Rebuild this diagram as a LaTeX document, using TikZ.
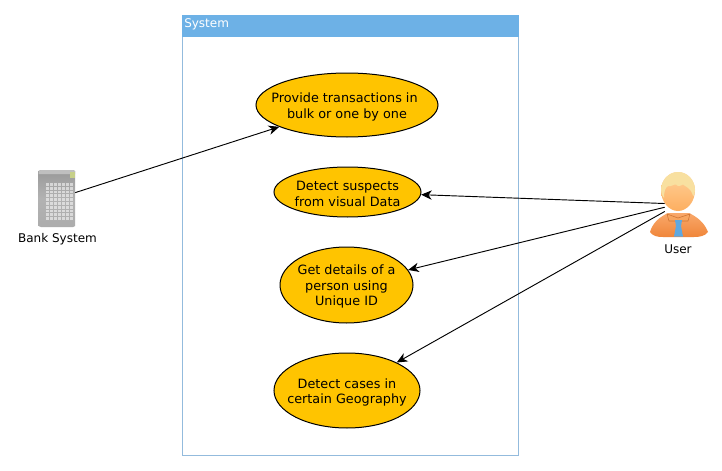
\documentclass[tikz,border=0pt]{standalone}
\usepackage{fontspec}
\setmainfont{DejaVu Sans}
\usepackage{xcolor}
\usetikzlibrary{shapes.geometric, arrows.meta}

\definecolor{headerblue}{HTML}{6DB1E6}
\definecolor{frameblue}{HTML}{93BBDD}
\definecolor{casefill}{HTML}{FFC400}
\definecolor{skin}{HTML}{FFD29A}
\definecolor{skindark}{HTML}{FDAE60}
\definecolor{hair}{HTML}{F8E0A0}
\definecolor{shirt}{HTML}{F0863A}
\definecolor{shirtlight}{HTML}{F9A86A}
\definecolor{collar}{HTML}{F7A560}
\definecolor{tie}{HTML}{5FA8E0}

\newcommand{\topgap}{\rule{0pt}{9.9pt}}

\tikzset{
	usecase/.style={ellipse, draw=black, line width=0.75pt, fill=casefill, inner sep=-14pt, align=center, font=\fontsize{9.6}{11.6}\selectfont},
	actorlabel/.style={font=\fontsize{9}{11}\selectfont, inner sep=0pt},
	link/.style={-{Stealth[length=8pt, width=7pt, inset=2.5pt]}, line width=0.7pt},
	icon/.style={inner sep=0pt, minimum width=#1*0.75pt}
}

\begin{document}
\begin{tikzpicture}[x=0.75pt, y=-0.75pt]
	\useasboundingbox (0, 0) rectangle (722, 471);
	\fill[white] (0, 0) rectangle (722, 471);

	% System frame
	\draw[frameblue, line width=0.75pt] (182.5, 15.5) rectangle (518.5, 455.5);
	\fill[headerblue] (182, 15) rectangle (519, 37);
	\node[actorlabel, white, anchor=west] (systemlabel) at (184, 24) {System};

	% Use cases
	\node[usecase, minimum width=136.5pt, minimum height=48pt] (transactions) at (347, 105) {\topgap Provide transactions in\hspace*{3.7pt}\\bulk or one by one};
	\node[usecase, minimum width=110.25pt, minimum height=37.5pt] (suspects) at (347.5, 192) {\topgap Detect suspects\\from visual Data};
	\node[usecase, minimum width=99.75pt, minimum height=57pt] (details) at (346.5, 285) {\topgap Get details of a\\person using\\Unique ID};
	\node[usecase, minimum width=109.5pt, minimum height=56.25pt] (cases) at (347, 390.5) {\topgap Detect cases in\\certain Geography};

	% Bank System
	\node[icon=36, minimum height=42.75pt] (bank) at (57, 198.5) {};
	\shade[top color=gray!80, bottom color=gray!65, middle color=gray!60] (38.5, 171) -- (38.5, 226) -- (41, 227) -- (73, 227) -- (75, 226) -- (75, 171) -- (73, 170) -- (41, 170) -- cycle;
	\fill[gray!50] (38.5, 171) -- (41, 170) -- (73, 170) -- (75, 171) -- (75, 174) -- (38.5, 174) -- cycle;
	\fill[yellow!75!green!55!gray!70] (70, 172) rectangle (75, 178);
	\foreach \row in {0,...,9}
		\foreach \col in {0,...,6}
			\fill[white, opacity=0.55] (46 + \col*4, 183 + \row*3.8) rectangle ++(2.9, 2.7);
	\node[actorlabel] (banklabel) at (57.5, 239) {Bank System};

	% User
	\node[icon=26, minimum height=48.75pt] (user) at (678, 204) {};
	\shade[top color=shirtlight, bottom color=shirt] (650, 232) .. controls (653, 222) and (660, 217) .. (668, 213) -- (689, 213) .. controls (697, 217) and (704, 222) .. (708, 232) .. controls (705, 236) and (700, 237) .. (694, 237) -- (663, 237) .. controls (657, 237) and (653, 236) .. (650, 232) -- cycle;
	\draw[shirt!85!black, line width=0.4pt, fill=collar] (667, 214) -- (678, 218) -- (690, 214) -- (688, 221) -- (679, 221) -- (669, 221) -- cycle;
	\fill[tie] (675, 220) -- (682, 220) -- (681, 226) -- (683, 236.5) -- (674, 236.5) -- (676, 226) -- cycle;
	\shade[top color=skin, bottom color=skindark] (678, 172) .. controls (668, 172) and (661, 181) .. (661, 190) .. controls (661, 202) and (669, 211) .. (678, 211) .. controls (687, 211) and (695, 202) .. (695, 190) .. controls (695, 181) and (688, 172) .. (678, 172) -- cycle;
	\fill[hair] (678, 172) .. controls (668, 172) and (661, 181) .. (661, 190) .. controls (661, 193) and (662, 196) .. (664, 198) .. controls (664, 192) and (665, 188) .. (668, 186) .. controls (671, 187) and (674, 184) .. (676, 184.5) .. controls (678, 187) and (681, 186) .. (683, 184.5) .. controls (686, 187) and (690, 188) .. (692, 193) .. controls (692.5, 195) and (693, 196) .. (693.5, 196) .. controls (694.5, 194) and (695, 192) .. (695, 190) .. controls (695, 181) and (688, 172) .. (678, 172) -- cycle;
	\node[actorlabel] (userlabel) at (678, 249) {User};

	% Connectors
	\draw[link] (bank) -- (transactions);
	\draw[link] (user) -- (suspects);
	\draw[link] (user) -- (details);
	\draw[link] (user) -- (cases);
\end{tikzpicture}
\end{document}
